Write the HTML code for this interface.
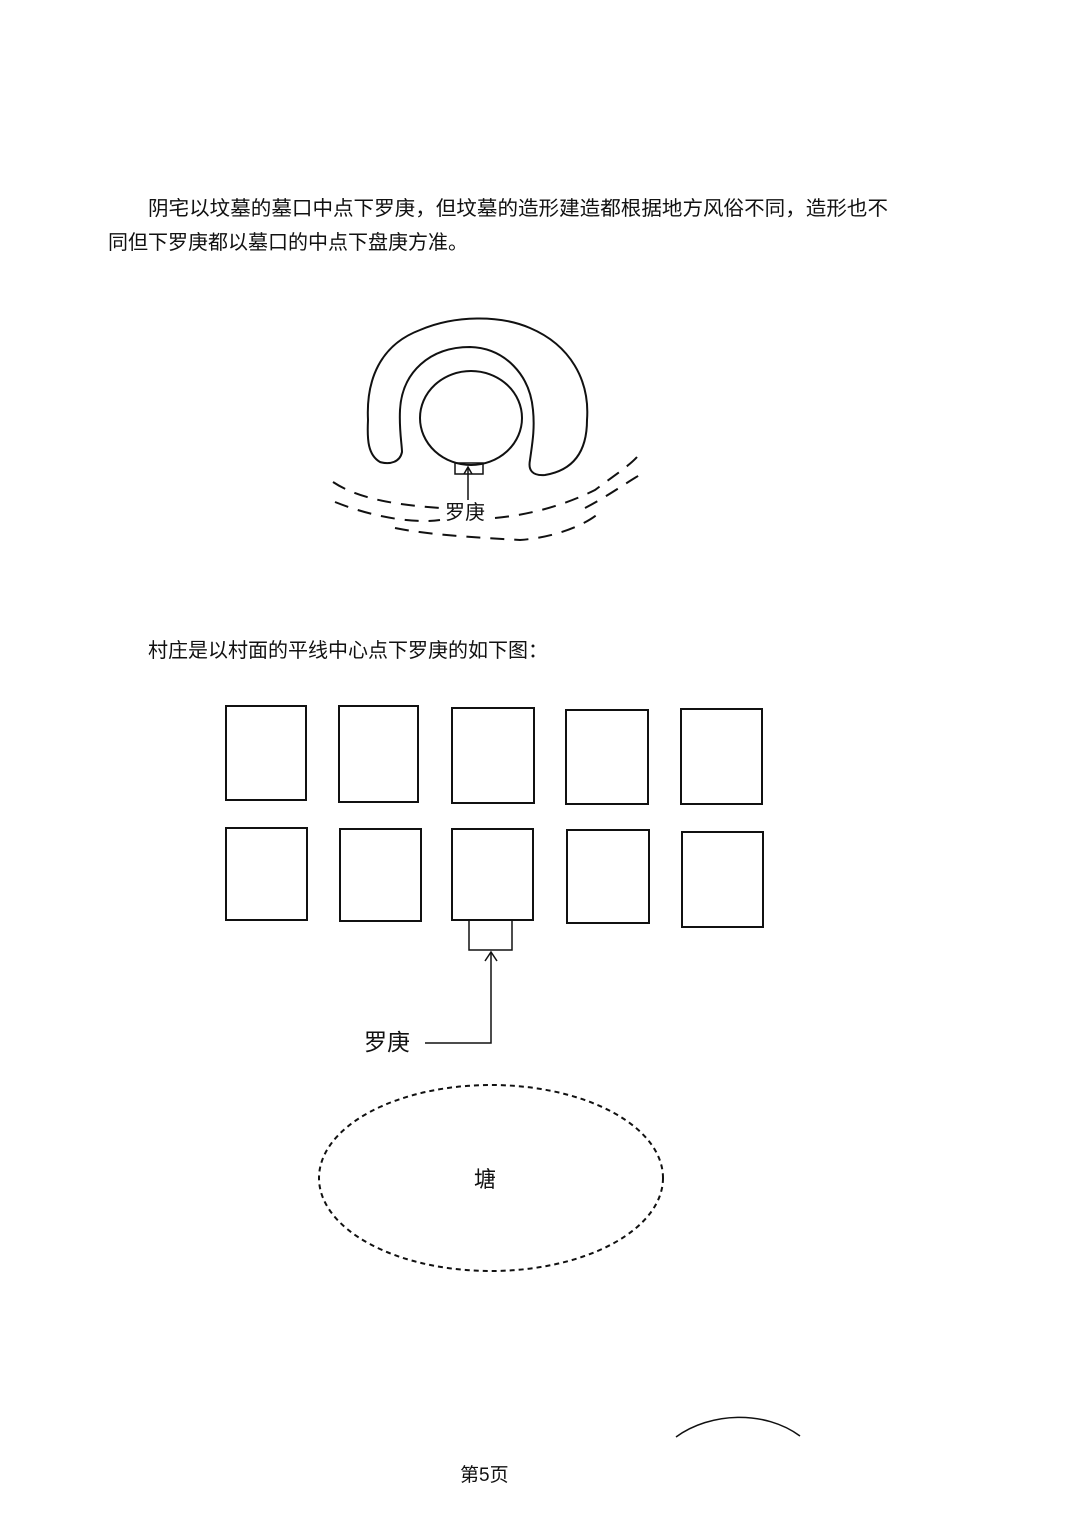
<!DOCTYPE html>
<html><head><meta charset="utf-8"><style>
html,body{margin:0;padding:0;background:#fff;}
svg{display:block;}
text{font-family:"Liberation Sans","Noto Sans CJK SC",sans-serif;fill:#111;}
</style></head><body>
<svg width="1080" height="1528" viewBox="0 0 1080 1528" xmlns="http://www.w3.org/2000/svg">
<rect width="1080" height="1528" fill="#fff"/>
<text x="148" y="215" font-size="20" textLength="740" lengthAdjust="spacingAndGlyphs">阴宅以坟墓的墓口中点下罗庚，但坟墓的造形建造都根据地方风俗不同，造形也不</text>
<text x="108" y="249" font-size="20" textLength="360" lengthAdjust="spacingAndGlyphs">同但下罗庚都以墓口的中点下盘庚方准。</text>

<g fill="none" stroke="#111" stroke-width="2">
<path d="M380,462 C368,455 367,440 368,420 C366,380 380,345 420,330 C455,315 500,315 530,328 C570,345 590,380 587,420 C587,450 575,470 545,475 C532,476 528,470 530,460 C532,445 535,430 533,410 C530,375 505,348 470,347 C430,347 402,372 400,410 C399,430 402,445 402,452 C400,462 390,465 380,462 Z"/>
<ellipse cx="471" cy="418" rx="51" ry="47"/>
<rect x="455" y="463" width="28" height="11" stroke-width="1.5"/>
<line x1="468" y1="468" x2="468" y2="500" stroke-width="1.5"/>
<path d="M464,474 L468,467 L472,474" stroke-width="1.5"/>
<g stroke-width="2" stroke-dasharray="14,10">
<path d="M333,482 C360,500 400,505 440,508"/>
<path d="M335,502 C380,520 420,523 440,520"/>
<path d="M395,528 C430,535 470,537 520,540 C560,537 590,522 600,512"/>
<path d="M495,518 C540,514 575,500 595,490 C615,475 630,465 637,457"/>
<path d="M585,508 C610,495 630,480 645,472"/>
</g>
</g>
<text x="445" y="519" font-size="20">罗庚</text>

<text x="148" y="657" font-size="20" textLength="400" lengthAdjust="spacingAndGlyphs">村庄是以村面的平线中心点下罗庚的如下图：</text>

<g fill="none" stroke="#111" stroke-width="2">
<rect x="226" y="706" width="80" height="94"/>
<rect x="339" y="706" width="79" height="96"/>
<rect x="452" y="708" width="82" height="95"/>
<rect x="566" y="710" width="82" height="94"/>
<rect x="681" y="709" width="81" height="95"/>
<rect x="226" y="828" width="81" height="92"/>
<rect x="340" y="829" width="81" height="92"/>
<rect x="452" y="829" width="81" height="91"/>
<rect x="567" y="830" width="82" height="93"/>
<rect x="682" y="832" width="81" height="95"/>
<rect x="469" y="920" width="43" height="30" stroke-width="1.5"/>
<path d="M491,952 L491,1043 L425,1043" stroke-width="1.5"/>
<path d="M485,961 L491,952 L497,961" stroke-width="1.5"/>
<ellipse cx="491" cy="1178" rx="172" ry="93" stroke-dasharray="5,4"/>
<path d="M676,1437 C710,1412 765,1410 800,1436" stroke-width="1.5"/>
</g>
<text x="364" y="1050" font-size="23">罗庚</text>
<text x="474" y="1187" font-size="22">塘</text>
<text x="460" y="1481" font-size="19" font-family="Liberation Serif,'Noto Serif CJK SC',serif">第5页</text>
</svg>
</body></html>
